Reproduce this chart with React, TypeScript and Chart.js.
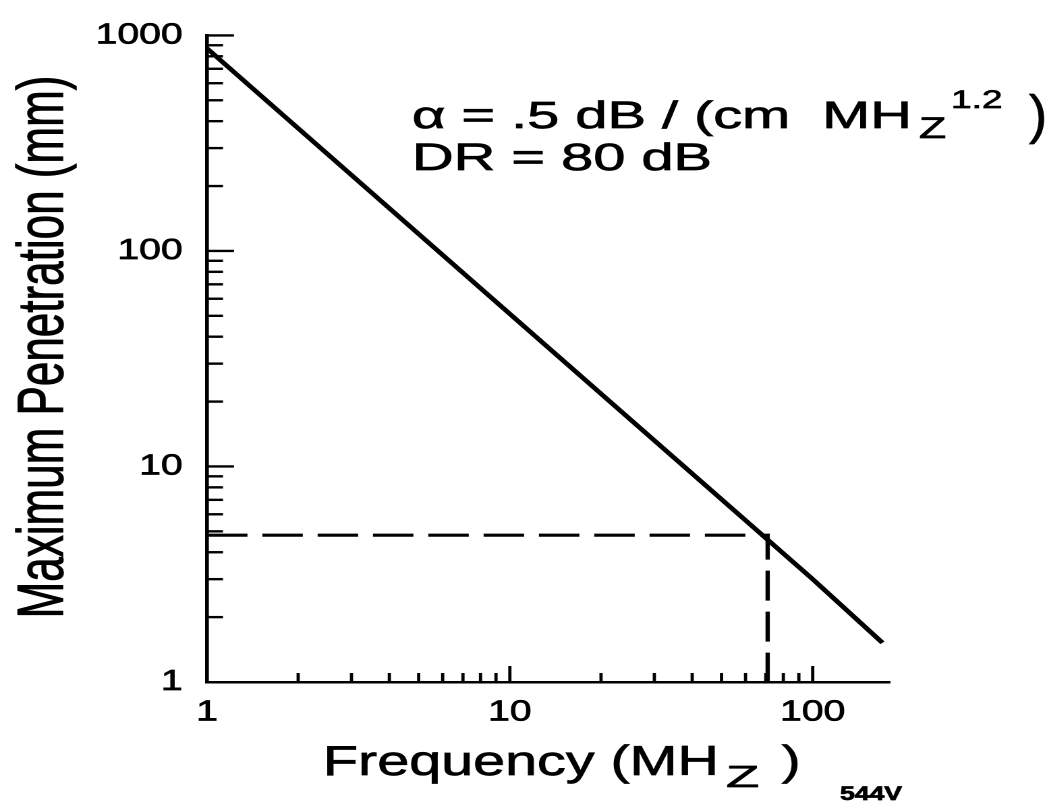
import React, { useEffect, useRef } from 'react';
import { Chart, registerables } from 'chart.js';

Chart.register(...registerables);

// ---- data ----
const frequencyMHz = [1, 10, 100, 170];
const penetrationMm = [870, 51, 3.0, 1.52];
const guideFrequencyMHz = [1, 71, 71];
const guidePenetrationMm = [4.8, 4.8, 1];

const xTickValues = [1, 10, 100];
const yTickValues = [1, 10, 100, 1000];
const minorMultipliers = [2, 3, 4, 5, 6, 7, 8, 9];

const xTitleParts = ['Frequency (MH', 'Z', ' )'];
const yTitle = 'Maximum Penetration (mm)';
const noteLine1Parts = ['\u03B1 = .5 dB / (cm  MH', 'Z', '1.2', ')'];
const noteLine2 = 'DR = 80 dB';
const figureCode = '544V';

// ---- layout (the scanned original is stretched horizontally) ----
const VIEW_W = 1047;
const VIEW_H = 805;
const CANVAS_W = 776;
const S = VIEW_W / CANVAS_W;
const FAMILY = "'Liberation Sans', Arial, Helvetica, sans-serif";
const TEXT_STROKE = 0.7;

const L = (screenX: number) => screenX / S;

function text(ctx: CanvasRenderingContext2D, str: string, screenX: number, baseline: number, size: number, sx = 1, weight = 'normal', fitWidth?: number) {
  ctx.font = `${weight} ${size}px ${FAMILY}`;
  let scaleX = sx;
  if (fitWidth) {
    const w = ctx.measureText(str).width;
    scaleX = L(fitWidth) / w;
  }
  ctx.save();
  ctx.translate(L(screenX), baseline);
  ctx.scale(scaleX, 1);
  ctx.textAlign = 'left';
  ctx.textBaseline = 'alphabetic';
  ctx.fillText(str, 0, 0);
  ctx.lineWidth = TEXT_STROKE;
  ctx.strokeText(str, 0, 0);
  ctx.restore();
}

const decorPlugin = {
  id: 'decor',
  afterDraw(chart: any) {
    const ctx: CanvasRenderingContext2D = chart.ctx;
    const xs = chart.scales.x;
    const ys = chart.scales.y;
    const area = chart.chartArea;
    ctx.save();
    ctx.strokeStyle = '#000';
    ctx.fillStyle = '#000';
    ctx.lineWidth = 2.4;
    ctx.lineCap = 'butt';

    // inward tick marks on the y axis
    const drawY = (v: number, len: number) => {
      const py = ys.getPixelForValue(v);
      ctx.beginPath();
      ctx.moveTo(area.left, py);
      ctx.lineTo(area.left + len, py);
      ctx.stroke();
    };
    yTickValues.forEach((v) => {
      if (v > ys.min) drawY(v, L(27));
      if (v < ys.max) minorMultipliers.forEach((m) => { if (v * m < ys.max) drawY(v * m, L(16)); });
    });

    // inward tick marks on the x axis
    const drawX = (v: number, len: number) => {
      const px = xs.getPixelForValue(v);
      ctx.beginPath();
      ctx.moveTo(px, area.bottom);
      ctx.lineTo(px, area.bottom - len);
      ctx.stroke();
    };
    xTickValues.forEach((v) => {
      if (v > xs.min) drawX(v, 16);
      minorMultipliers.forEach((m) => { if (v * m <= 100 && v * m < xs.max) drawX(v * m, 9); });
    });

    // y axis title (rotated)
    ctx.save();
    ctx.translate(L(63), 347);
    ctx.rotate(-Math.PI / 2);
    ctx.scale(1, 1.1);
    ctx.font = `44px ${FAMILY}`;
    ctx.textAlign = 'center';
    ctx.textBaseline = 'alphabetic';
    ctx.fillText(yTitle, 0, 0);
    ctx.lineWidth = TEXT_STROKE;
    ctx.strokeText(yTitle, 0, 0);
    ctx.restore();

    // x axis title
    text(ctx, xTitleParts[0], 323, 775, 42, 1, 'normal', 396);
    text(ctx, xTitleParts[1], 726, 787, 31, 1.3);
    text(ctx, xTitleParts[2], 766, 775, 42, 1);

    // annotation
    text(ctx, noteLine1Parts[0], 412, 128, 38, 1, 'normal', 500);
    text(ctx, noteLine1Parts[1], 919, 138, 30, 1.1);
    text(ctx, noteLine1Parts[2], 951, 108, 25, 1.1);
    text(ctx, noteLine1Parts[3], 1029, 133, 54, 0.75);
    text(ctx, noteLine2, 412, 170, 38, 1, 'normal', 300);

    // figure code
    text(ctx, figureCode, 840, 800, 19, 1, 'bold', 62);

    ctx.restore();
  },
};

export default function App() {
  const canvasRef = useRef<HTMLCanvasElement | null>(null);

  useEffect(() => {
    const canvas = canvasRef.current;
    if (!canvas) return;
    const tickFont = { family: FAMILY, size: 29 };
    const chart = new Chart(canvas, {
      type: 'line',
      data: {
        datasets: [
          {
            data: frequencyMHz.map((f, i) => ({ x: f, y: penetrationMm[i] })),
            borderColor: '#000',
            borderWidth: 4,
            pointRadius: 0,
            tension: 0,
            fill: false,
          },
          {
            data: guideFrequencyMHz.map((f, i) => ({ x: f, y: guidePenetrationMm[i] })),
            borderColor: '#000',
            borderWidth: 3.2,
            borderDash: [30, 11],
            pointRadius: 0,
            tension: 0,
            fill: false,
          },
        ],
      },
      options: {
        animation: false,
        responsive: false,
        devicePixelRatio: 2,
        layout: { padding: { top: 22, right: CANVAS_W - L(890), bottom: 0, left: 0 } },
        plugins: { legend: { display: false }, tooltip: { enabled: false } },
        scales: {
          x: {
            type: 'logarithmic',
            position: 'bottom',
            min: 1,
            max: 180,
            afterBuildTicks: (s: any) => { s.ticks = xTickValues.map((v) => ({ value: v })); },
            afterFit: (s: any) => { s.height = VIEW_H - 682; },
            ticks: { autoSkip: false, maxRotation: 0, padding: 13, color: '#000', font: tickFont, textStrokeColor: '#000', textStrokeWidth: TEXT_STROKE, callback: (v: any) => String(v) },
            grid: { display: false, drawTicks: false },
            border: { display: true, color: '#000', width: 2.5 },
          },
          y: {
            type: 'logarithmic',
            position: 'left',
            min: 1,
            max: 1000,
            afterBuildTicks: (s: any) => { s.ticks = yTickValues.map((v) => ({ value: v })); },
            afterFit: (s: any) => { s.width = L(207); },
            ticks: { autoSkip: false, padding: 18, color: '#000', font: tickFont, textStrokeColor: '#000', textStrokeWidth: TEXT_STROKE, callback: (v: any) => String(v) },
            grid: { display: false, drawTicks: false },
            border: { display: true, color: '#000', width: 2.8 },
          },
        },
      },
      plugins: [decorPlugin],
    } as any);
    return () => chart.destroy();
  }, []);

  return (
    <div style={{ position: 'fixed', left: 0, top: 0, width: VIEW_W, height: VIEW_H, background: '#fff', overflow: 'hidden' }}>
      <canvas
        ref={canvasRef}
        width={CANVAS_W}
        height={VIEW_H}
        style={{ width: `${VIEW_W}px`, height: `${VIEW_H}px`, display: 'block' }}
      />
    </div>
  );
}
